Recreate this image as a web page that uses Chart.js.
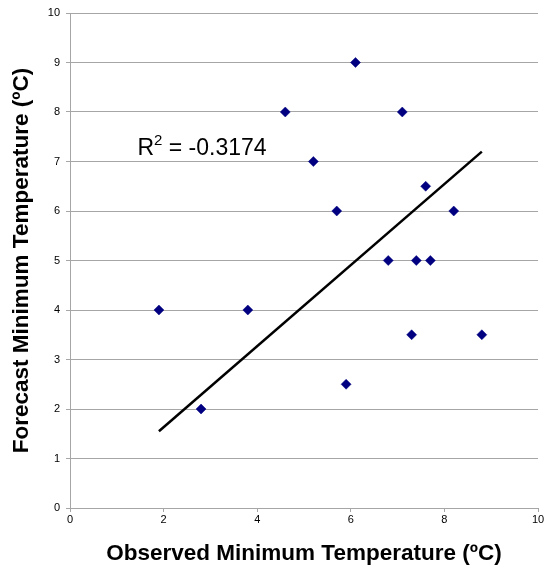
<!DOCTYPE html>
<html>
<head>
<meta charset="utf-8">
<script src="https://cdn.jsdelivr.net/npm/chart.js@4"></script>
<style>
  html, body { margin: 0; padding: 0; background: #fff; }
  #wrap { width: 550px; height: 576px; }
</style>
</head>
<body>
<div id="wrap"><canvas id="chart" width="550" height="576"></canvas></div>
<script>
// observed vs forecast minimum temperatures
const observed = [1.9, 2.8, 3.8, 4.6, 5.2, 5.7, 6.1, 5.9, 7.1, 6.8, 7.4, 7.7, 7.6, 8.2, 7.3, 8.8];
const forecast = [4, 2, 4, 8, 7, 6, 9, 2.5, 8, 5, 5, 5, 6.5, 6, 3.5, 3.5];

// trend line end points
const trendX = [1.9, 8.8];
const trendY = [1.55, 7.2];

const xTicks = [0, 2, 4, 6, 8, 10];
const yTicks = [0, 1, 2, 3, 4, 5, 6, 7, 8, 9, 10];

const rSquared = "-0.3174";
const labelAt = { x: 1.44, y: 7.13 };

const gridColor = "#a6a6a6";
const fontFamily = "'Liberation Sans', Arial, sans-serif";

const points = observed.map(function(x, i) { return { x: x, y: forecast[i] }; });
const trend = trendX.map(function(x, i) { return { x: x, y: trendY[i] }; });

// R^2 label with a raised 2
const rLabel = {
    id: "rLabel",
    afterDatasetsDraw(chart) {
        const ctx = chart.ctx;
        const px = chart.scales.x.getPixelForValue(labelAt.x);
        const py = chart.scales.y.getPixelForValue(labelAt.y);
        ctx.save();
        ctx.fillStyle = "#000";
        ctx.textBaseline = "alphabetic";
        ctx.textAlign = "left";
        ctx.font = "23px " + fontFamily;
        ctx.fillText("R", px, py);
        let w = ctx.measureText("R").width;
        ctx.font = "15px " + fontFamily;
        ctx.fillText("2", px + w, py - 10);
        w += ctx.measureText("2").width;
        ctx.font = "23px " + fontFamily;
        ctx.fillText(" = " + rSquared, px + w, py);
        ctx.restore();
    }
};

new Chart(document.getElementById("chart"), {
    type: "scatter",
    data: {
        datasets: [
            {
                label: "Trend",
                type: "line",
                data: trend,
                borderColor: "#000",
                borderWidth: 2.5,
                pointRadius: 0,
                fill: false,
                order: 2
            },
            {
                label: "Forecast",
                data: points,
                pointStyle: "rectRot",
                pointRadius: 5,
                pointBackgroundColor: "#000080",
                pointBorderColor: "#000080",
                pointBorderWidth: 0.5,
                order: 1
            }
        ]
    },
    options: {
        responsive: false,
        animation: false,
        layout: { padding: { top: 13, right: 12, left: 0, bottom: 0 } },
        plugins: {
            legend: { display: false },
            tooltip: { enabled: false }
        },
        scales: {
            x: {
                type: "linear",
                min: 0,
                max: 10,
                afterBuildTicks(scale) { scale.ticks = xTicks.map(function(v) { return { value: v }; }); },
                afterFit(scale) { scale.height = 68; },
                grid: { drawOnChartArea: false, drawTicks: true, tickLength: 4, color: gridColor },
                border: { color: gridColor, width: 1 },
                ticks: { color: "#000", padding: 1, maxRotation: 0, font: { family: fontFamily, size: 11 } },
                title: {
                    display: true,
                    text: "Observed Minimum Temperature (ºC)",
                    color: "#000",
                    font: { family: fontFamily, size: 22.5, weight: "bold" },
                    padding: { top: 0, bottom: 8.5 }
                }
            },
            y: {
                type: "linear",
                min: 0,
                max: 10,
                afterBuildTicks(scale) { scale.ticks = yTicks.map(function(v) { return { value: v }; }); },
                afterFit(scale) { scale.width = 70; },
                grid: { color: gridColor, tickLength: 4, lineWidth: 1 },
                border: { color: gridColor, width: 1 },
                ticks: { color: "#000", padding: 6, font: { family: fontFamily, size: 11 } },
                title: {
                    display: true,
                    text: "Forecast Minimum Temperature (ºC)",
                    color: "#000",
                    font: { family: fontFamily, size: 22.5, weight: "bold" },
                    padding: { top: 8.5, bottom: 0 }
                }
            }
        }
    },
    plugins: [rLabel]
});
</script>
</body>
</html>
